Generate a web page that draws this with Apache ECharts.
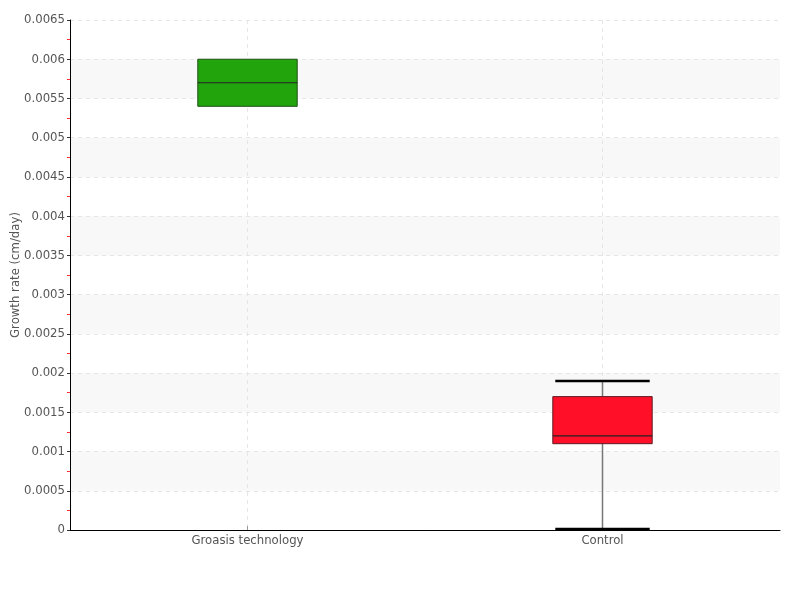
<!DOCTYPE html>
<html><head><meta charset="utf-8">
<script src="https://cdn.jsdelivr.net/npm/echarts@6/dist/echarts.min.js"></script>
<style>html,body{margin:0;padding:0;background:#fff}#c{width:800px;height:600px}</style>
</head><body><div id="c"></div>
<script>
const categories = ['Groasis technology', 'Control'];
const mins    = [0.0054, 0.0];
const q1s     = [0.0054, 0.0011];
const medians = [0.0057, 0.0012];
const q3s     = [0.0060, 0.0017];
const maxs    = [0.0060, 0.0019];
const fills   = ['#22a50c', '#ff1028'];
const borders = ['#1f4f15', '#5e1c22'];

const FONT = '"DejaVu Sans Condensed","Liberation Sans Narrow",sans-serif';
const data = categories.map((c, i) => [i, mins[i], q1s[i], medians[i], q3s[i], maxs[i]]);

const chart = echarts.init(document.getElementById('c'));
chart.setOption({
  animation: false,
  grid: {left: 70, right: 20, top: 20, bottom: 70, containLabel: false, outerBoundsMode: 'none'},
  xAxis: {
    type: 'category', data: categories, boundaryGap: true,
    axisLine: {lineStyle: {color: '#000', width: 1}},
    axisTick: {show: true, alignWithLabel: true, inside: true, length: 4, lineStyle: {color: '#999'}},
    axisLabel: {color: '#555', fontFamily: FONT, fontSize: 13, margin: 4},
    splitLine: {show: true, alignWithLabel: true, lineStyle: {color: '#e6e6e6', type: [4, 4]}}
  },
  yAxis: {
    type: 'value', min: 0, max: 0.0065, interval: 0.0005,
    name: 'Growth rate (cm/day)', nameLocation: 'middle', nameGap: 48, nameRotate: 90,
    nameMoveOverlap: false,
    nameTextStyle: {color: '#555', fontFamily: FONT, fontSize: 13},
    axisLine: {show: true, lineStyle: {color: '#000', width: 1}},
    axisTick: {show: true, length: 3, lineStyle: {color: '#333'}},
    minorTick: {show: true, splitNumber: 2, length: 3, lineStyle: {color: '#ff3030'}},
    axisLabel: {color: '#555', fontFamily: FONT, fontSize: 13, margin: 5},
    splitLine: {show: true, lineStyle: {color: '#e6e6e6', type: [4, 4]}},
    splitArea: {show: true, areaStyle: {color: ['rgba(0,0,0,0)', '#f8f8f8']}}
  },
  series: [{
    type: 'custom',
    data: data,
    encode: {x: 0, y: [1, 2, 3, 4, 5]},
    renderItem: function (params, api) {
      const i = api.value(0);
      const cx = api.coord([i, 0])[0];
      const bw = api.size([1, 0])[0] * 0.28;
      const yMin = api.coord([i, api.value(1)])[1];
      const yQ1 = api.coord([i, api.value(2)])[1];
      const yMed = api.coord([i, api.value(3)])[1];
      const yQ3 = api.coord([i, api.value(4)])[1];
      const yMax = api.coord([i, api.value(5)])[1];
      const children = [];
      const capW = bw * 0.95;
      if (api.value(5) > api.value(4) || api.value(1) < api.value(2)) {
        children.push({type: 'line', shape: {x1: cx, y1: yMax, x2: cx, y2: yMin},
          style: {stroke: '#777', lineWidth: 1.5}});
      }
      children.push({type: 'rect', shape: {x: cx - bw / 2, y: yQ3, width: bw, height: yQ1 - yQ3},
        style: {fill: fills[i], stroke: borders[i], lineWidth: 1}});
      children.push({type: 'line', shape: {x1: cx - bw / 2, y1: yMed, x2: cx + bw / 2, y2: yMed},
        style: {stroke: '#222', lineWidth: 1.2}});
      if (api.value(5) > api.value(4)) {
        children.push({type: 'line', shape: {x1: cx - capW / 2, y1: yMax, x2: cx + capW / 2, y2: yMax},
          style: {stroke: '#000', lineWidth: 2.5}});
      }
      if (api.value(1) < api.value(2)) {
        children.push({type: 'line', shape: {x1: cx - capW / 2, y1: yMin - 1, x2: cx + capW / 2, y2: yMin - 1},
          style: {stroke: '#000', lineWidth: 2.5}});
      }
      return {type: 'group', children: children};
    }
  }]
});
</script></body></html>
